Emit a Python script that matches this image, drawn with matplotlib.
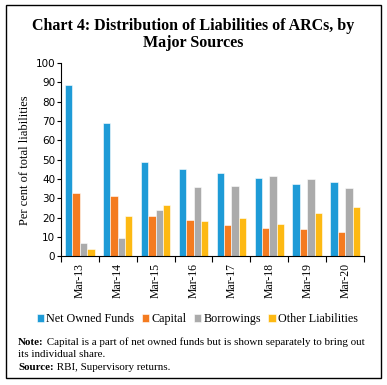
import matplotlib
matplotlib.use("Agg")

import matplotlib.pyplot as plt
import numpy as np
from matplotlib.font_manager import FontProperties
from matplotlib.patches import Rectangle
from matplotlib.text import Annotation

categories = ["Mar-13", "Mar-14", "Mar-15", "Mar-16", "Mar-17", "Mar-18", "Mar-19", "Mar-20"]
net_owned_funds = [88.6, 68.9, 48.7, 45.4, 43.2, 40.7, 37.3, 38.3]
capital = [32.8, 31.0, 21.0, 18.8, 16.4, 14.8, 14.1, 12.6]
borrowings = [7.0, 9.5, 24.0, 35.7, 36.4, 41.8, 40.0, 35.5]
other_liabilities = [3.6, 20.7, 26.4, 18.1, 19.7, 16.7, 22.3, 25.7]

series = [
    ("Net Owned Funds", net_owned_funds, "#1E9BD7"),
    ("Capital", capital, "#F47B20"),
    ("Borrowings", borrowings, "#ABABAB"),
    ("Other Liabilities", other_liabilities, "#FDB913"),
]

serif = "Liberation Serif"

fig = plt.figure(figsize=(3.87, 3.85), dpi=100)
ax = fig.add_axes([0.157, 0.334, 0.784, 0.502])

x = np.arange(len(categories))
w = 0.195
for i, (name, vals, col) in enumerate(series):
    ax.bar(x + (i - 1.5) * w, vals, width=w, color=col, edgecolor="white",
           linewidth=0.4, label=name)

ax.set_xlim(-0.5, len(categories) - 0.5)
ax.set_ylim(0, 100)
ax.set_yticks(range(0, 101, 10))
ax.tick_params(axis="y", labelsize=7.5, length=3, width=0.8, pad=1)
ax.set_xticks(x)
ax.set_xticklabels(categories, rotation=90, fontsize=8.5, family=serif)
ax.tick_params(axis="x", which="major", length=0, pad=5)
ax.set_xticks(np.arange(-0.5, len(categories)), minor=True)
ax.tick_params(axis="x", which="minor", length=4, width=0.8)
for s in ["top", "right"]:
    ax.spines[s].set_visible(False)
ax.spines["left"].set_linewidth(0.8)
ax.spines["bottom"].set_linewidth(0.8)
ax.set_ylabel("Per cent of total liabilities", family=serif, fontsize=9, labelpad=3)

fig.text(0.5, 0.91, "Chart 4: Distribution of Liabilities of ARCs, by\nMajor Sources",
         ha="center", va="center", family=serif, fontweight="bold", fontsize=11.5,
         linespacing=1.1)

fig.legend(loc="center", bbox_to_anchor=(0.51, 0.171), ncol=4, frameon=False,
           prop=FontProperties(family=serif, size=8.7), handlelength=0.6, handleheight=0.6,
           handletextpad=0.2, columnspacing=0.6, borderaxespad=0)

# note and source lines, bold lead word followed by regular text
fs = 7.9
t1 = fig.text(0.047, 0.104, "Note:", family=serif, fontweight="bold", fontsize=fs, va="baseline")
fig.text(0.047, 0.073, "its individual share.", family=serif, fontsize=fs, va="baseline")
t2 = fig.text(0.047, 0.038, "Source:", family=serif, fontweight="bold", fontsize=fs, va="baseline")
for t, s in [(t1, " Capital is a part of net owned funds but is shown separately to bring out"),
             (t2, " RBI, Supervisory returns.")]:
    fig.add_artist(Annotation(s, xy=(1, 0), xycoords=t, va="bottom", ha="left",
                              family=serif, fontsize=fs))

fig.patches.append(Rectangle((0.016, 0.018), 0.969, 0.968, transform=fig.transFigure,
                             fill=False, edgecolor="black", linewidth=1.0))

fig.savefig("out.png", dpi=100)
plt.close(fig)
